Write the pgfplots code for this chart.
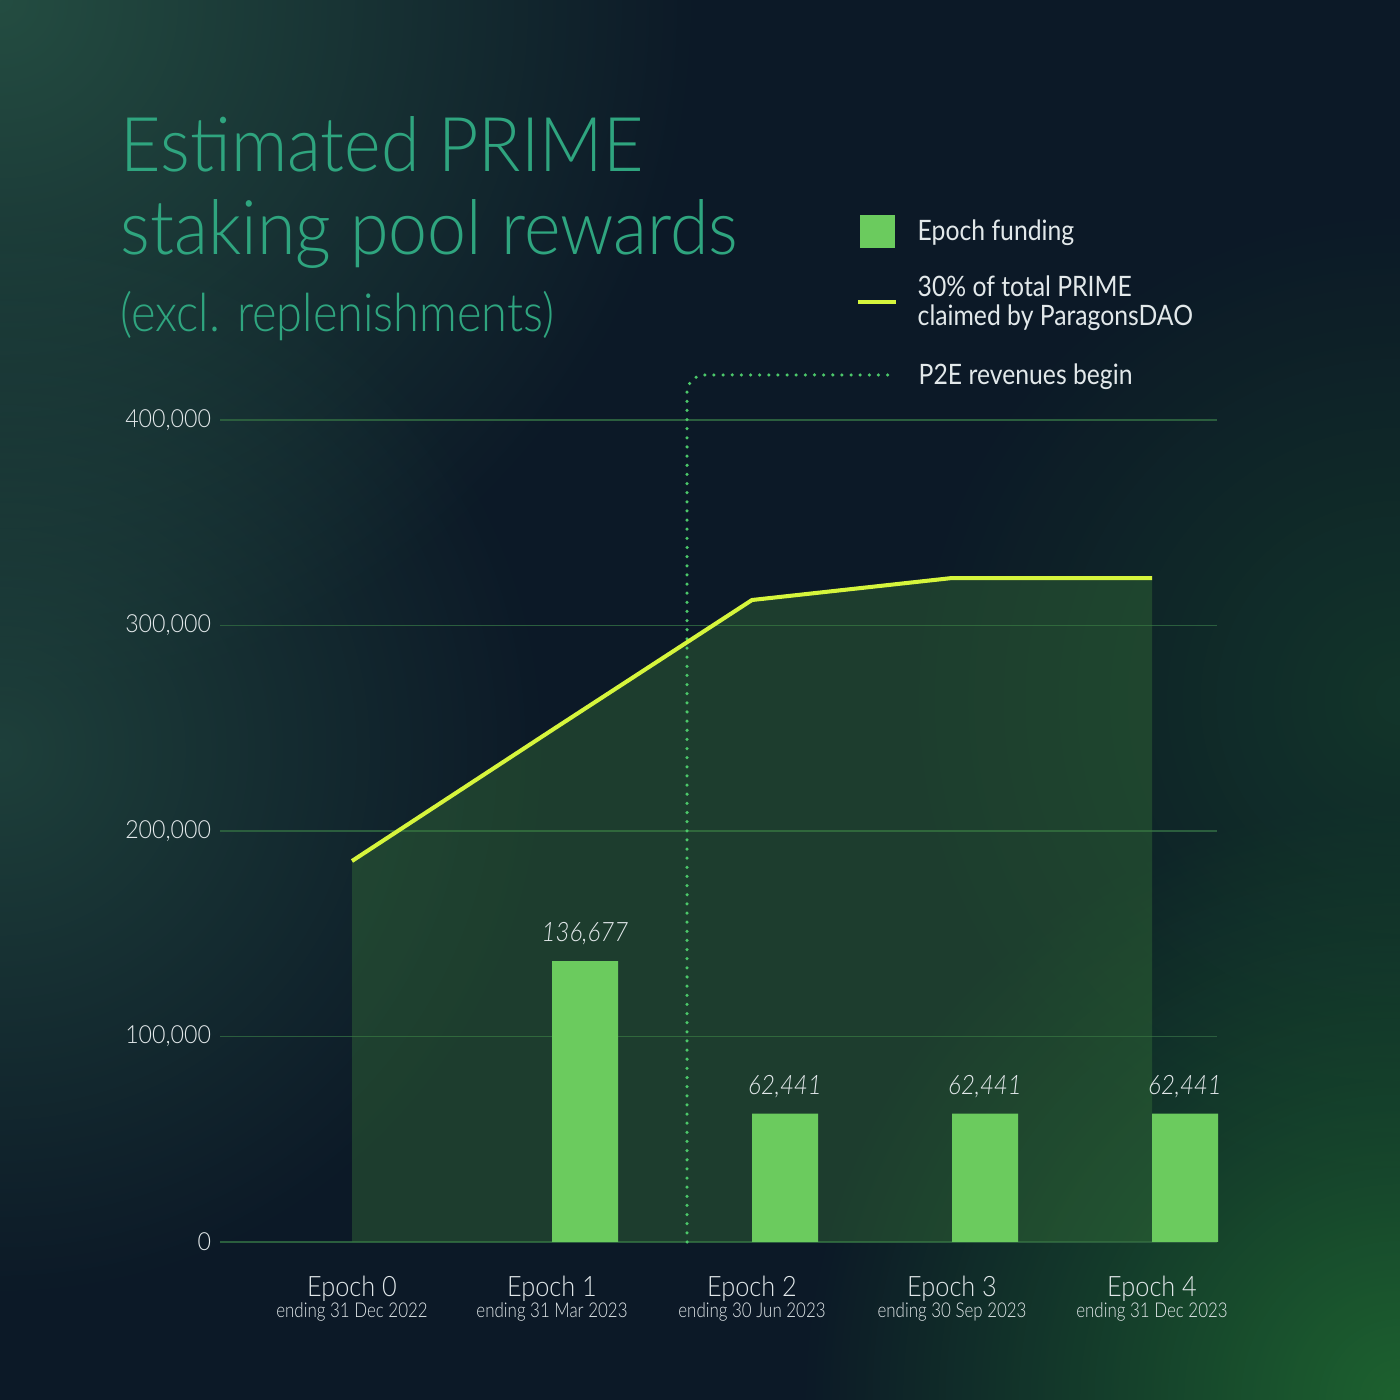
\documentclass[border=0pt]{standalone}
\usepackage{pgfplots}
\pgfplotsset{compat=1.18}
\usepackage{fontspec}
\usetikzlibrary{fadings}
\setmainfont{Lato Light}[ItalicFont={Lato Light Italic}]
\newfontfamily\titlefont{Lato Light}[FakeStretch=0.925]
\newfontfamily\subfont{Lato Light}[FakeStretch=0.89]
\newfontfamily\legfont{Lato}[FakeStretch=0.88]
\newfontfamily\tickfont{Lato Light}[FakeStretch=0.93]
\newfontfamily\epfont{Lato Light}[FakeStretch=0.9]
\newfontfamily\datefont{Lato Light}[FakeStretch=0.83]
\newfontfamily\valfont{Lato Light Italic}[FakeStretch=0.9]
\tikzfading[name=glowfade, inner color=transparent!0, outer color=transparent!100]
\definecolor{bg}{HTML}{0C1927}
\definecolor{titlecol}{HTML}{2FA57F}
\definecolor{barcol}{HTML}{6BCB5E}
\definecolor{linecol}{HTML}{D6F53C}
\definecolor{gridcol}{HTML}{2B5E3E}
\definecolor{txt}{HTML}{E2E8EA}
\definecolor{dotcol}{HTML}{4CC86A}
\definecolor{areacol}{HTML}{3A7A3A}
\definecolor{glowA}{HTML}{2A5A48}
\definecolor{glowB}{HTML}{1F6A30}
\begin{document}
\begin{tikzpicture}[x=1cm,y=1cm]
\fill[bg] (0,0) rectangle (14,14);
\begin{scope}
\clip (0,0) rectangle (14,14);
\fill[glowA, opacity=0.8, path fading=glowfade] (0,14) circle (7);
\fill[glowA, opacity=0.6, path fading=glowfade] (0,6.5) circle (5.5);
\fill[glowB, opacity=0.9, path fading=glowfade] (14,0) circle (6);
\fill[glowB, opacity=0.35, path fading=glowfade] (14,7) circle (5);
\end{scope}
% title
\node[anchor=base west, inner sep=0pt, text=titlecol, font=\titlefont\fontsize{21.5}{24}\selectfont] at (1.2,12.28) {Estimated PRIME};
\node[anchor=base west, inner sep=0pt, text=titlecol, font=\titlefont\fontsize{21.5}{24}\selectfont] at (1.2,11.45) {staking pool rewards};
\node[anchor=base west, inner sep=0pt, text=titlecol, font=\subfont\fontsize{15}{17}\selectfont] at (1.2,10.68) {(excl. replenishments)};
% legend
\fill[barcol] (8.60,11.52) rectangle (8.95,11.85);
\node[anchor=base west, inner sep=0pt, text=txt, font=\legfont\fontsize{8}{9}\selectfont] at (9.17,11.59) {Epoch funding};
\draw[linecol, line width=1.1pt] (8.58,10.98) -- (8.96,10.98);
\node[anchor=base west, inner sep=0pt, text=txt, font=\legfont\fontsize{8}{9}\selectfont] at (9.17,11.03) {30\% of total PRIME};
\node[anchor=base west, inner sep=0pt, text=txt, font=\legfont\fontsize{8}{9}\selectfont] at (9.17,10.74) {claimed by ParagonsDAO};
\node[anchor=base west, inner sep=0pt, text=txt, font=\legfont\fontsize{8}{9}\selectfont] at (9.18,10.15) {P2E revenues begin};
\begin{axis}[
  at={(2.2cm,1.58cm)}, anchor=south west,
  scale only axis, width=9.97cm, height=8.22cm,
  xmin=-0.66, xmax=4.325, ymin=0, ymax=400000,
  clip=false,
  axis line style={draw=none},
  major tick length=0pt,
  ymajorgrids, major grid style={gridcol, line width=0.4pt},
  ytick={0,100000,200000,300000,400000},
  scaled y ticks=false,
  /pgf/number format/assume math mode=true,
  /pgf/number format/fixed,
  /pgf/number format/1000 sep={,},
  yticklabel style={font=\tickfont\fontsize{7.1}{8}\selectfont, text=txt, xshift=1pt},
  xtick={0,1,2,3,4},
  xticklabels={
    {Epoch 0\\[-3pt]{\datefont\fontsize{5.8}{6.5}\selectfont ending 31 Dec 2022}},
    {Epoch 1\\[-3pt]{\datefont\fontsize{5.8}{6.5}\selectfont ending 31 Mar 2023}},
    {Epoch 2\\[-3pt]{\datefont\fontsize{5.8}{6.5}\selectfont ending 30 Jun 2023}},
    {Epoch 3\\[-3pt]{\datefont\fontsize{5.8}{6.5}\selectfont ending 30 Sep 2023}},
    {Epoch 4\\[-3pt]{\datefont\fontsize{5.8}{6.5}\selectfont ending 31 Dec 2023}}},
  xticklabel style={align=center, font=\epfont\fontsize{8}{9}\selectfont, text=txt, yshift=-6.2pt},
]
\addplot[fill=areacol, fill opacity=0.38, draw=none] coordinates {(0,185400) (1,249100) (2,312400) (3,323100) (4,323100)} \closedcycle;
\addplot[dotcol, line width=1.0pt, line cap=round, dash pattern=on 0pt off 2.6pt, rounded corners=5pt] coordinates {(1.675,0) (1.675,421900) (2.69,421900)};
\addplot[linecol, line width=1.15pt] coordinates {(0,185400) (1,249100) (2,312400) (3,323100) (4,323100)};
\addplot[ybar, bar width=0.33, bar shift=0.165, fill=barcol, draw=none,
  nodes near coords={\pgfmathprintnumber{\pgfplotspointmeta}},
  nodes near coords style={font=\valfont\fontsize{7.6}{8}\selectfont, text=txt, yshift=1pt, xshift=0.33cm}]
  coordinates {(1,136677) (2,62441) (3,62441) (4,62441)};
\end{axis}
\end{tikzpicture}
\end{document}
